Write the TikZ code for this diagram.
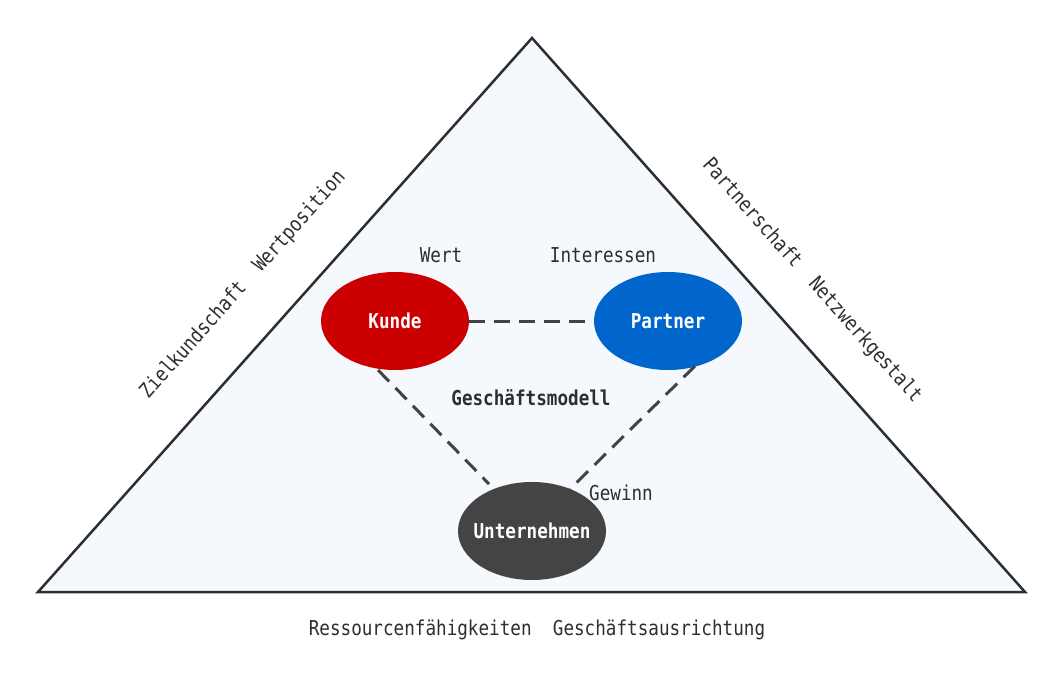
\documentclass[tikz,border=0pt]{standalone}
\usepackage{fontspec}
\newfontfamily\lblfont{DejaVu Sans Mono}[FakeStretch=0.86]
\usetikzlibrary{shapes.geometric,calc}
\definecolor{tri}{HTML}{F5F8FD}
\definecolor{edge}{HTML}{2B2F33}
\definecolor{kred}{HTML}{CC0000}
\definecolor{pblue}{HTML}{0066CC}
\definecolor{ugray}{HTML}{444444}
\definecolor{txt}{HTML}{2E2E2E}
\begin{document}
\begin{tikzpicture}[x=1pt,y=-1pt,
  every node/.style={font=\lblfont\fontsize{20.5}{24}\selectfont, text=txt},
  blob/.style={ellipse, minimum width=148pt, minimum height=98pt, inner sep=0pt, text=white, font=\lblfont\bfseries\fontsize{20.5}{24}\selectfont},
  link/.style={draw=edge!90, line width=3pt, dash pattern=on 16pt off 9pt},
  lbl/.style={inner sep=0pt, anchor=center}]
\useasboundingbox (0,0) rectangle (1063,697);
\coordinate (apex) at (532,38);
\coordinate (bl) at (38,592);
\coordinate (br) at (1025,592);
\draw[fill=tri, draw=edge, line width=2.5pt, line join=miter] (apex) -- (br) -- (bl) -- cycle;

\node[blob, fill=kred] (kunde) at (395,321) {\makebox[0pt][c]{Kunde}};
\node[blob, fill=pblue] (partner) at (668,321) {\makebox[0pt][c]{Partner}};
\node[blob, fill=ugray] (unter) at (532,531) {\makebox[0pt][c]{Unternehmen}};

\draw[link] (kunde.east) -- (partner.west);
\draw[link] ($(kunde.center)+(-17,49)$) -- ($(unter.center)+(-43,-47)$);
\draw[link] ($(partner.center)+(27,45)$) -- ($(unter.center)+(38,-42)$);

\node[lbl] (wert) at (441,255) {Wert};
\node[lbl] (inter) at (603,255) {Interessen};
\node[lbl, font=\lblfont\bfseries\fontsize{20.5}{24}\selectfont] (gm) at (531,398) {Geschäftsmodell};
\node[lbl] (gew) at (621,493) {Gewinn};
\node[lbl] (bottom) at (537,630) {Ressourcenfähigkeiten\ \ Geschäftsausrichtung};
\node[lbl, rotate=48.3] (left) at (243,285) {Zielkundschaft\ \ Wertposition};
\node[lbl, rotate=-48.3] (right) at (812,281) {Partnerschaft\ \ Netzwerkgestalt};
\end{tikzpicture}
\end{document}
